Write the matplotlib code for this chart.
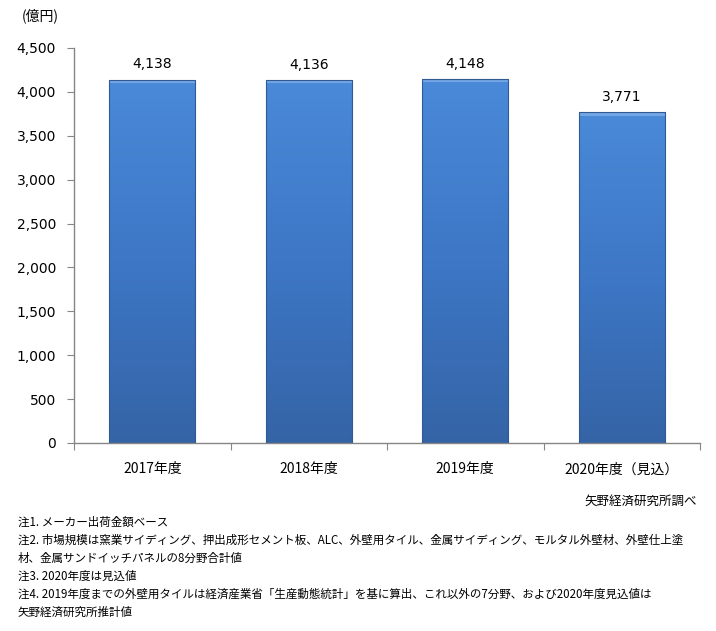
import matplotlib
matplotlib.use("Agg")
import matplotlib.pyplot as plt
import numpy as np
from matplotlib.patches import Rectangle
from matplotlib.colors import LinearSegmentedColormap

plt.rcParams['font.family'] = ['DejaVu Sans', 'Noto Sans CJK JP']

categories = ["2017年度", "2018年度", "2019年度", "2020年度（見込）"]
values = [4138, 4136, 4148, 3771]
yticks = [0, 500, 1000, 1500, 2000, 2500, 3000, 3500, 4000, 4500]
unit_label = "(億円)"
source = "矢野経済研究所調べ"
notes = [
    "注1. メーカー出荷金額ベース",
    "注2. 市場規模は窯業サイディング、押出成形セメント板、ALC、外壁用タイル、金属サイディング、モルタル外壁材、外壁仕上塗",
    "材、金属サンドイッチパネルの8分野合計値",
    "注3. 2020年度は見込値",
    "注4. 2019年度までの外壁用タイルは経済産業省「生産動態統計」を基に算出、これ以外の7分野、および2020年度見込値は",
    "矢野経済研究所推計値",
]

W, H = 716, 631
fig = plt.figure(figsize=(W / 100, H / 100), dpi=100)
ax = fig.add_axes([74 / W, (H - 443) / H, (700 - 74) / W, (443 - 48) / H])

cmap = LinearSegmentedColormap.from_list("bar", ["#3564a6", "#3d77c6", "#4a8ad8"])
bw = 0.55
x = np.arange(len(categories))
for xi, v in zip(x, values):
    rect = Rectangle((xi - bw / 2, 0), bw, v, facecolor="none", edgecolor="#2f5a94", lw=0.8, zorder=3)
    ax.add_patch(rect)
    grad = np.linspace(0, 1, 256).reshape(-1, 1)
    im = ax.imshow(grad, cmap=cmap, origin="lower", aspect="auto",
                   extent=[xi - bw / 2, xi + bw / 2, 0, v], zorder=2)
    im.set_clip_path(rect)
    # top highlight bevel
    ax.add_patch(Rectangle((xi - bw / 2, v - 40), bw, 40, facecolor="#7eaee8", edgecolor="none", zorder=2.5, alpha=0.8))
    ax.text(xi, v + 95, f"{v:,}", ha="center", va="bottom", fontsize=10, color="#000000")

ax.set_xlim(-0.5, len(categories) - 0.5)
ax.set_ylim(0, 4500)
ax.set_yticks(yticks)
ax.set_yticklabels([f"{t:,}" for t in yticks], fontsize=10)
ax.set_xticks(np.arange(len(categories) + 1) - 0.5)
ax.set_xticklabels([])
ax.set_xticks(x, minor=True)
ax.set_xticklabels(categories, minor=True, fontsize=10, family=['Noto Sans CJK JP', 'DejaVu Sans'])
ax.tick_params(axis="x", which="minor", length=0, pad=14)
ax.tick_params(axis="x", which="major", length=5, color="#868686", direction="out")
ax.tick_params(axis="y", length=5, color="#868686", direction="out", pad=8)
for s in ["top", "right"]:
    ax.spines[s].set_visible(False)
for s in ["left", "bottom"]:
    ax.spines[s].set_color("#868686")
    ax.spines[s].set_linewidth(1)

fig.text(22 / W, 1 - 16 / H, unit_label, ha="left", va="center", fontsize=10,
         family=['Noto Sans CJK JP', 'DejaVu Sans'])
fig.text(697 / W, 1 - 501 / H, source, ha="right", va="center", fontsize=9,
         family=['Noto Sans CJK JP', 'DejaVu Sans'])
for i, line in enumerate(notes):
    fig.text(18 / W, 1 - (522 + 18 * i) / H, line, ha="left", va="center", fontsize=8.3,
             family=['Noto Sans CJK JP', 'DejaVu Sans'])

fig.savefig("out.png", dpi=100)
